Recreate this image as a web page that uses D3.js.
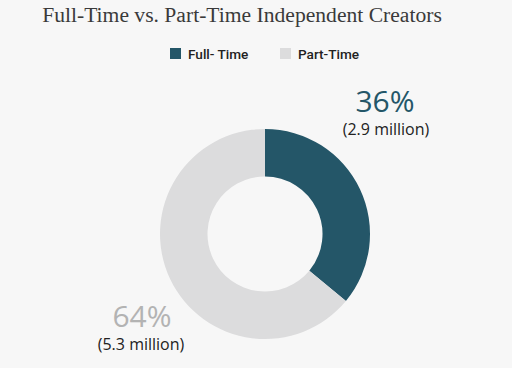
<!DOCTYPE html>
<html>
<head>
<meta charset="utf-8">
<script src="https://cdn.jsdelivr.net/npm/d3@7"></script>
<style>
  html, body { margin: 0; padding: 0; background: #f7f7f7; }
  svg { display: block; }
</style>
</head>
<body>
<div id="chart"></div>
<script>
var categories = ["Full- Time", "Part-Time"];
var shares = [36, 64];
var millions = ["2.9", "5.3"];
var colors = ["#245668", "#dcdcdd"];
var labelColors = ["#245668", "#b3b3b3"];

var width = 512, height = 368;
var cx = 265, cy = 234, outerR = 105, innerR = 57.5;

var svg = d3.select("#chart").append("svg")
  .attr("width", width)
  .attr("height", height);

svg.append("rect").attr("width", width).attr("height", height).attr("fill", "#f7f7f7");

// title
svg.append("text")
  .attr("x", 242).attr("y", 21.5)
  .attr("text-anchor", "middle")
  .attr("font-family", "'Liberation Serif', serif")
  .attr("font-size", 21.6)
  .attr("fill", "#3a3a3a")
  .text("Full-Time vs. Part-Time Independent Creators");

// legend
var legendX = [170, 280];
var legend = svg.selectAll("g.legend")
  .data(categories).enter().append("g")
  .attr("class", "legend")
  .attr("transform", function(d, i) { return "translate(" + legendX[i] + ",48)"; });

legend.append("rect")
  .attr("width", 11).attr("height", 11)
  .attr("fill", function(d, i) { return colors[i]; });

legend.append("text")
  .attr("x", 18).attr("y", 10.5)
  .attr("font-family", "Roboto, sans-serif")
  .attr("font-weight", 500)
  .attr("font-size", 13.6)
  .attr("fill", "#222")
  .text(function(d) { return d; });

// donut
var pie = d3.pie().sort(null).value(function(d) { return d; });
var arc = d3.arc().innerRadius(innerR).outerRadius(outerR);

var g = svg.append("g").attr("transform", "translate(" + cx + "," + cy + ")");
g.selectAll("path")
  .data(pie(shares)).enter().append("path")
  .attr("d", arc)
  .attr("fill", function(d, i) { return colors[i]; });

// labels
var labelPos = [[385, 112, 386, 135], [142, 327, 141, 350]];
var labels = svg.selectAll("g.label")
  .data(shares).enter().append("g")
  .attr("class", "label");

labels.append("text")
  .attr("x", function(d, i) { return labelPos[i][0]; })
  .attr("y", function(d, i) { return labelPos[i][1]; })
  .attr("text-anchor", "middle")
  .attr("font-family", "'Open Sans', sans-serif")
  .attr("font-size", 30)
  .attr("fill", function(d, i) { return labelColors[i]; })
  .text(function(d) { return d + "%"; });

labels.append("text")
  .attr("x", function(d, i) { return labelPos[i][2]; })
  .attr("y", function(d, i) { return labelPos[i][3]; })
  .attr("text-anchor", "middle")
  .attr("font-family", "'Open Sans', sans-serif")
  .attr("font-size", 16)
  .attr("fill", "#222")
  .text(function(d, i) { return "(" + millions[i] + " million)"; });
</script>
</body>
</html>
